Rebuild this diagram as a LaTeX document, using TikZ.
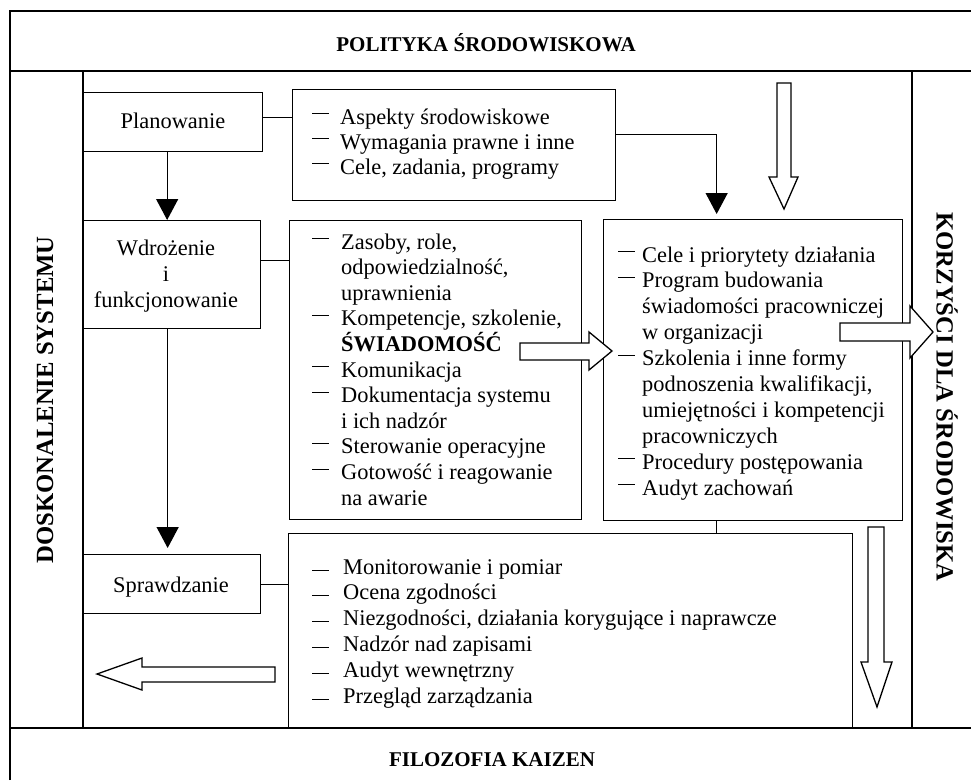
\documentclass[tikz,border=0pt]{standalone}
\usepackage{fontspec}
\setmainfont{Liberation Serif}
\usetikzlibrary{arrows.meta}

\newcommand\dashmark[2]{\makebox[#1][l]{\rule[#2]{16.5pt}{0.9pt}}}

\tikzset{
  frame/.style={line width=2pt},
  band/.style={line width=1.4pt},
  box/.style={draw, line width=1.3pt, inner sep=0pt, anchor=north west},
  lbl/.style={inner sep=0pt, font=\fontsize{22.4}{25.6}\selectfont},
  head/.style={inner sep=0pt, font=\fontsize{21}{24}\selectfont\bfseries},
  vhead/.style={inner sep=0pt, font=\fontsize{24.7}{28}\selectfont\bfseries},
  conn/.style={line width=1.3pt},
  blk/.style={line width=1.3pt, -{Triangle[width=22pt,length=21pt]}},
  hollow/.style={draw, line width=1.3pt, fill=white, line join=miter},
}

\begin{document}
\begin{tikzpicture}[x=1pt,y=-1pt]
\useasboundingbox (0,0) rectangle (971,780);

% frame and bands
\draw[frame] (10,780) -- (10,11) -- (971,11);
\draw[frame] (10,71) -- (971,71);
\draw[frame] (10,728) -- (971,728);
\draw[band] (83,71) -- (83,728);
\draw[band] (912,71) -- (912,728);

% band titles
\node[head, anchor=base] (pol) at (486,51) {POLITYKA ŚRODOWISKOWA};
\node[head, anchor=base] (kai) at (492,766) {FILOZOFIA KAIZEN};
\node[vhead, rotate=90] (dosk) at (45,400) {DOSKONALENIE SYSTEMU};
\node[vhead, rotate=-90] (korz) at (947,397) {KORZYŚCI DLA ŚRODOWISKA};

% boxes
\node[box, minimum width=179pt, minimum height=59pt] (plan) at (83,92) {};
\node[box, minimum width=323pt, minimum height=111pt] (asp) at (292,89) {};
\node[box, minimum width=177pt, minimum height=108pt] (wdr) at (83,220) {};
\node[box, minimum width=292pt, minimum height=299pt] (zas) at (289,220) {};
\node[box, minimum width=299pt, minimum height=301pt] (cele) at (603,219) {};
\node[box, minimum width=177pt, minimum height=59pt] (spr) at (83,554) {};
\node[box, minimum width=564pt, minimum height=195pt] (mon) at (288,533) {};

% box texts
\node[lbl, anchor=base] (planT) at (173,128) {Planowanie};
\node[lbl, anchor=base] (sprT) at (171,592) {Sprawdzanie};
\node[lbl, anchor=base, font=\fontsize{22.4}{26}\selectfont] (wdrT) at (166,255)
  {\begin{tabular}[t]{@{}c@{}}Wdrożenie\\ i\\ funkcjonowanie\end{tabular}};

\node[lbl, anchor=base west, font=\fontsize{22.4}{25}\selectfont] (aspT) at (312,124)
  {\begin{tabular}[t]{@{}l@{}l@{}}
   \dashmark{28pt}{10pt} & Aspekty środowiskowe\\
   \dashmark{28pt}{10pt} & Wymagania prawne i inne\\
   \dashmark{28pt}{10pt} & Cele, zadania, programy
   \end{tabular}};

\node[lbl, anchor=base west, font=\fontsize{22.4}{25.6}\selectfont] (zasT) at (312,249)
  {\begin{tabular}[t]{@{}l@{}l@{}}
   \dashmark{29pt}{10pt} & Zasoby, role,\\
   & odpowiedzialność,\\
   & uprawnienia\\
   \dashmark{29pt}{10pt} & Kompetencje, szkolenie,\\
   & \smash{\textbf{ŚWIADOMOŚĆ}}\\
   \dashmark{29pt}{10pt} & Komunikacja\\
   \dashmark{29pt}{10pt} & Dokumentacja systemu\\
   & i ich nadzór\\
   \dashmark{29pt}{10pt} & Sterowanie operacyjne\\
   \dashmark{29pt}{10pt} & Gotowość i reagowanie\\
   & na awarie
   \end{tabular}};

\node[lbl, anchor=base west, font=\fontsize{22.4}{25.9}\selectfont] (celeT) at (618,262)
  {\begin{tabular}[t]{@{}l@{}l@{}}
   \dashmark{24pt}{10pt} & Cele i priorytety działania\\
   \dashmark{24pt}{10pt} & Program budowania\\
   & świadomości pracowniczej\\
   & w organizacji\\
   \dashmark{24pt}{10pt} & Szkolenia i inne formy\\
   & podnoszenia kwalifikacji,\\
   & umiejętności i kompetencji\\
   & pracowniczych\\
   \dashmark{24pt}{10pt} & Procedury postępowania\\
   \dashmark{24pt}{10pt} & Audyt zachowań
   \end{tabular}};

\node[lbl, anchor=base west, font=\fontsize{22.4}{25.8}\selectfont] (monT) at (312,574)
  {\begin{tabular}[t]{@{}l@{}l@{}}
   \dashmark{31pt}{3.5pt} & Monitorowanie i pomiar\\
   \dashmark{31pt}{3.5pt} & Ocena zgodności\\
   \dashmark{31pt}{3.5pt} & Niezgodności, działania korygujące i naprawcze\\
   \dashmark{31pt}{3.5pt} & Nadzór nad zapisami\\
   \dashmark{31pt}{3.5pt} & Audyt wewnętrzny\\
   \dashmark{31pt}{3.5pt} & Przegląd zarządzania
   \end{tabular}};

% plain connectors
\draw[conn] ([yshift=4.5pt]plan.east) -- ([yshift=4.5pt]plan.east -| asp.west);
\draw[conn] ([yshift=14pt]wdr.east) -- ([yshift=14pt]wdr.east -| zas.west);
\draw[conn] (spr.east) -- (spr.east -| mon.west);
\draw[conn] ([xshift=-36.5pt]cele.south) -- ([xshift=-36.5pt]cele.south |- mon.north);

% black arrows
\draw[blk] ([xshift=-6pt]plan.south) -- ([xshift=-6pt]plan.south |- wdr.north);
\draw[blk, shorten >=6pt] ([xshift=-4.5pt]wdr.south) -- ([xshift=-4.5pt]wdr.south |- spr.north);
\draw[blk, shorten >=5pt] ([yshift=10.5pt]asp.east) -| ([xshift=-36.5pt]cele.north);

% hollow block arrows
\draw[hollow] (777,83) -- (791,83) -- (791,177) -- (798,177) -- (784,209) -- (769,177) -- (777,177) -- cycle;
\draw[hollow] (520,343) -- (589,343) -- (589,332) -- (612,351) -- (589,370) -- (589,360) -- (520,360) -- cycle;
\draw[hollow] (840,323) -- (910,323) -- (910,306) -- (933,332) -- (910,358) -- (910,341) -- (840,341) -- cycle;
\draw[hollow] (868,527) -- (884,527) -- (884,662) -- (892,662) -- (877,707) -- (861,662) -- (868,662) -- cycle;
\draw[hollow] (275,667) -- (142,667) -- (142,658) -- (97,674) -- (142,690) -- (142,682) -- (275,682) -- cycle;
\end{tikzpicture}
\end{document}
